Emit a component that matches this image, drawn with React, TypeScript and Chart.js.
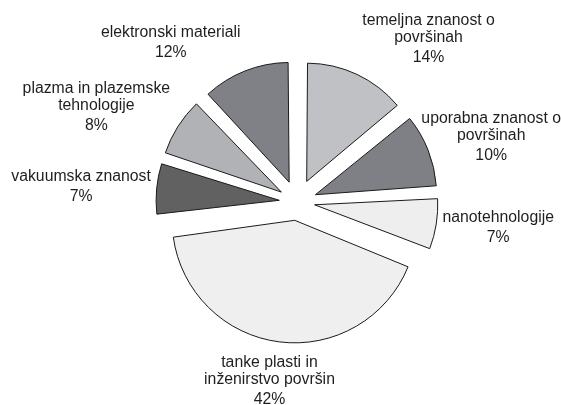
import React, { useEffect, useRef } from "react";
import { Chart, registerables } from "chart.js";

Chart.register(...registerables);

const categories: string[][] = [
  ["temeljna znanost o", "površinah"],
  ["uporabna znanost o", "površinah"],
  ["nanotehnologije"],
  ["tanke plasti in", "inženirstvo površin"],
  ["vakuumska znanost"],
  ["plazma in plazemske", "tehnologije"],
  ["elektronski materiali"],
];
const shares: number[] = [14, 10, 7, 42, 7, 8, 12];
const sliceColors: string[] = ["#c0c1c5", "#7f8085", "#eeeeee", "#efefef", "#616161", "#b1b2b6", "#808186"];

const EXPLODE = 28;
const RADIUS = 113;
const FONT_SIZE = 15.8;
const FONT = `${FONT_SIZE}px "Liberation Sans", Arial, sans-serif`;
const NAME_LINE = 17;
const PCT_GAP = 20;

const labelPlugin = {
  id: "outsideLabels",
  afterDatasetsDraw(chart: any) {
    const ctx: CanvasRenderingContext2D = chart.ctx;
    const meta = chart.getDatasetMeta(0);
    const data = chart.data.datasets[0].data as number[];
    const total = data.reduce((a, b) => a + b, 0);
    ctx.save();
    ctx.font = FONT;
    ctx.fillStyle = "#1e1e1e";
    ctx.textAlign = "center";
    ctx.textBaseline = "middle";
    meta.data.forEach((arc: any, i: number) => {
      const { x, y, startAngle, endAngle, outerRadius } = arc.getProps(
        ["x", "y", "startAngle", "endAngle", "outerRadius"],
        true
      );
      const a = (startAngle + endAngle) / 2;
      const ca = Math.cos(a);
      const sa = Math.sin(a);
      const dist = EXPLODE + outerRadius + 5 + 8 * Math.abs(sa);
      const px = x + ca * dist;
      const py = y + sa * dist;
      const name = chart.data.labels[i] as string[];
      const pct = Math.round((data[i] / total) * 100) + "%";
      const lines = [...name, pct];
      const w = Math.max(...lines.map((l) => ctx.measureText(l).width));
      const span = NAME_LINE * (name.length - 1) + PCT_GAP;
      const h = span + FONT_SIZE;
      const fx = Math.abs(ca) < 0.2 ? ca : Math.sign(ca);
      let cx = px + (fx * w) / 2;
      const cy = py + (sa * h) / 2;
      cx = Math.min(Math.max(cx, w / 2), chart.width - w / 2);
      const top = cy - span / 2;
      name.forEach((l, k) => ctx.fillText(l, cx, top + k * NAME_LINE));
      ctx.fillText(pct, cx, top + NAME_LINE * (name.length - 1) + PCT_GAP);
    });
    ctx.restore();
  },
};

export default function App() {
  const ref = useRef<HTMLCanvasElement | null>(null);
  useEffect(() => {
    if (!ref.current) return;
    const total = shares.reduce((a, b) => a + b, 0);
    const chart = new Chart(ref.current, {
      type: "pie",
      data: {
        labels: categories,
        datasets: [
          {
            data: shares,
            backgroundColor: sliceColors,
            borderColor: "#1a1a1a",
            borderWidth: 1,
            offset: (c: any) => {
              const circ = (shares[c.dataIndex] / total) * Math.PI * 2;
              return (EXPLODE * 4) / (2 - Math.sin(Math.min(Math.PI, circ)));
            },
          } as any,
        ],
      },
      options: {
        animation: false,
        responsive: false,
        devicePixelRatio: 1,
        events: [],
        radius: RADIUS,
        layout: { padding: { left: 33, right: 0, top: 0, bottom: 1 } },
        plugins: {
          legend: { display: false },
          tooltip: { enabled: false },
        },
      } as any,
      plugins: [labelPlugin],
    });
    return () => chart.destroy();
  }, []);
  return (
    <div style={{ position: "absolute", left: 0, top: 0, width: 561, height: 405, background: "#fff" }}>
      <canvas ref={ref} width={561} height={405} style={{ display: "block" }} />
    </div>
  );
}
